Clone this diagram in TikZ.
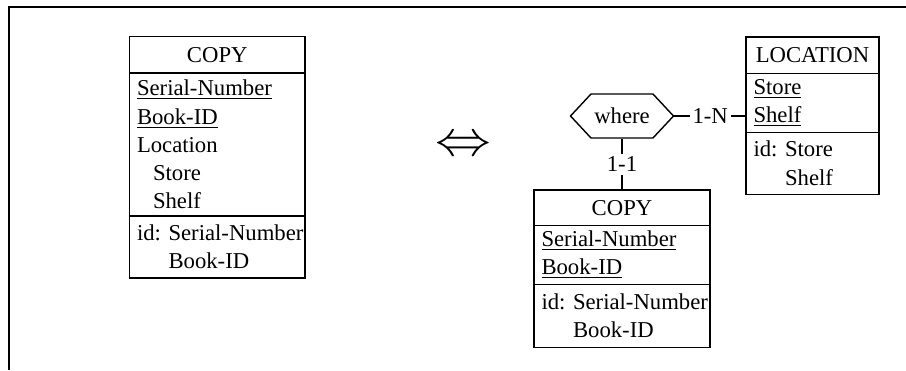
\documentclass[tikz,border=0pt]{standalone}
\usepackage{fontspec}
\setmainfont{Liberation Serif}
\usetikzlibrary{positioning,shapes.symbols}

\newcommand{\erfont}{\fontsize{11.35}{14.1}\selectfont\frenchspacing}

\tikzset{
  ent/.style={draw, line width=0.7pt, outer sep=0pt, inner xsep=3.75pt, inner ysep=0pt, align=left, font=\erfont},
  entbox/.style={ent, text width=#1},
  enthead/.style={ent, text width=#1, align=center},
  relship/.style={draw, line width=0.7pt, shape=signal, signal to=east and west, signal pointer angle=94, inner sep=1pt, font=\erfont},
  conn/.style={line width=0.7pt},
  card/.style={fill=white, inner sep=1.5pt, font=\erfont},
}

\begin{document}
\begin{tikzpicture}[x=0.5pt,y=-0.5pt]
    \useasboundingbox (0,0) rectangle (906,370);
    \draw[line width=1.15pt] (9,370) -- (9,7) -- (906,7);

    % COPY with Location as compound attribute
    \node[enthead=80.25pt, minimum height=18.25pt, anchor=north west] (copyLhead) at (129.5,36.5) {COPY};
    \node[entbox=80.25pt, minimum height=71.5pt, below=0pt of copyLhead] (copyLatt)
        {\underline{Serial-Number}\\ \underline{Book-ID}\\ Location\\ \hspace*{8pt}Store\\ \hspace*{8pt}Shelf};
    \node[entbox=80.25pt, minimum height=31pt, below=0pt of copyLatt] (copyLid)
        {\mbox{id: Serial-Number}\\ \phantom{id: }Book-ID};

    \node[font=\fontsize{24}{24}\selectfont] (equiv) at (463,146) {\scalebox{1.12}[1]{$\Leftrightarrow$}};

    % LOCATION as entity type
    \node[enthead=59pt, minimum height=18.15pt, anchor=north west] (locHead) at (746,37) {LOCATION};
    \node[entbox=59pt, minimum height=29.5pt, below=0pt of locHead] (locAtt)
        {\underline{Store}\\ \underline{Shelf}};
    \node[entbox=59pt, minimum height=31pt, below=0pt of locAtt] (locId)
        {id: Store\\ \phantom{id: }Shelf};

    % COPY without Location
    \node[enthead=80.5pt, minimum height=17.85pt, anchor=north west] (copyRhead) at (534,190) {COPY};
    \node[entbox=80.5pt, minimum height=29.3pt, below=0pt of copyRhead] (copyRatt)
        {\underline{Serial-Number}\\ \underline{Book-ID}};
    \node[entbox=80.5pt, minimum height=31.5pt, below=0pt of copyRatt] (copyRid)
        {\mbox{id: Serial-Number}\\ \phantom{id: }Book-ID};

    \node[relship, minimum width=51.5pt, minimum height=22pt] (where) at (622,116) {where};

    \draw[conn] (where.east) -- node[card] {1-N} (where.east -| locAtt.west);
    \draw[conn] (where.south) -- node[card] {1-1} (copyRhead.north);
\end{tikzpicture}
\end{document}
